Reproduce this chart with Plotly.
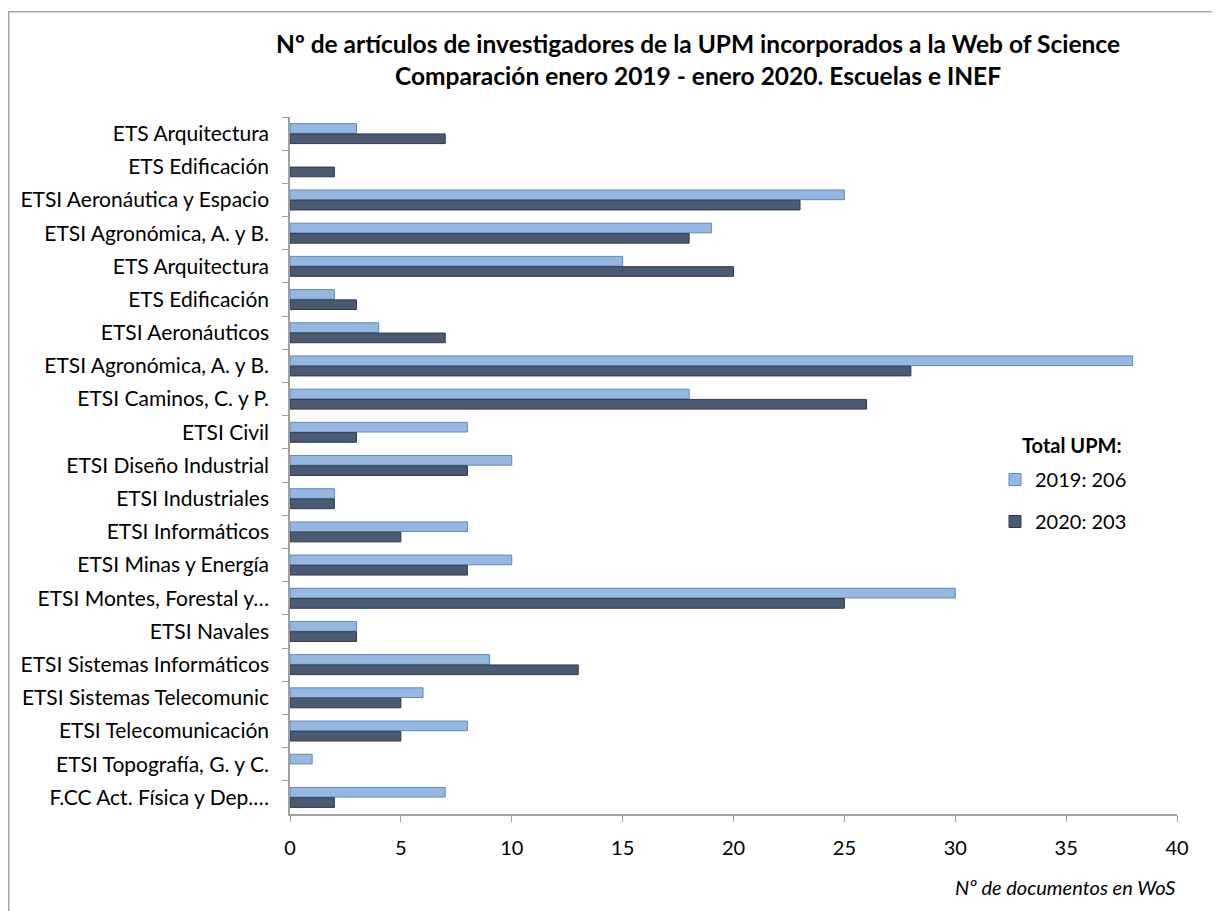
import plotly.graph_objects as go

categories = [
    "ETS Arquitectura", "ETS Edificación", "ETSI Aeronáutica y Espacio",
    "ETSI Agronómica, A. y B.", "ETS Arquitectura", "ETS Edificación",
    "ETSI Aeronáuticos", "ETSI Agronómica, A. y B.", "ETSI Caminos, C. y P.",
    "ETSI Civil", "ETSI Diseño Industrial", "ETSI Industriales",
    "ETSI Informáticos", "ETSI Minas y Energía", "ETSI Montes, Forestal y…",
    "ETSI Navales", "ETSI Sistemas Informáticos", "ETSI Sistemas Telecomunic",
    "ETSI Telecomunicación", "ETSI Topografía, G. y C.", "F.CC Act. Física y Dep.…",
]
values_2019 = [3, 0, 25, 19, 15, 2, 4, 38, 18, 8, 10, 2, 8, 10, 30, 3, 9, 6, 8, 1, 7]
values_2020 = [7, 2, 23, 18, 20, 3, 7, 28, 26, 3, 8, 2, 5, 8, 25, 3, 13, 5, 5, 0, 2]
series_names = ["2019: 206", "2020: 203"]
x_ticks = [0, 5, 10, 15, 20, 25, 30, 35, 40]

# make duplicate category names unique (invisible zero-width suffix)
seen = {}
ykeys = []
for c in categories:
    n = seen.get(c, 0)
    ykeys.append(c + "\u200b" * n)
    seen[c] = n + 1

FONT = "Lato"
W, H = 1220, 911
L, R, T, B = 282, 51, 109, 105
plot_w = W - L - R
plot_h = H - T - B


def px_x(x):
    return (x - L) / plot_w


def px_y(y):
    return 1 - (y - T) / plot_h


fig = go.Figure()
fig.add_trace(go.Bar(
    y=ykeys, x=values_2019, orientation="h", name=series_names[0],
    marker=dict(color="#95b8e3",
                line=dict(color="#6287b8", width=[0 if v == 0 else 1 for v in values_2019])),
    legendgroup="a",
))
fig.add_trace(go.Bar(
    y=ykeys, x=values_2020, orientation="h", name=series_names[1],
    marker=dict(color="#4a5a72",
                line=dict(color="#2e3a4c", width=[0 if v == 0 else 1 for v in values_2020])),
    legendgroup="b",
))

fig.update_layout(
    width=W, height=H,
    paper_bgcolor="white", plot_bgcolor="white",
    margin=dict(l=L, r=R, t=T, b=B),
    barmode="group", bargap=0.38, bargroupgap=0.06,
    font=dict(family=FONT, size=20, color="black"),
    title=dict(
        text="<b>Nº de artículos de investigadores de la UPM incorporados a la Web of Science<br>Comparación enero 2019 - enero 2020. Escuelas e INEF</b>",
        x=690 / W, xanchor="center", y=1 - 45 / H, yanchor="middle",
        font=dict(family=FONT, size=24.5, color="black"),
    ),
    legend=dict(
        x=px_x(987), xanchor="left", y=px_y(452), yanchor="top",
        xref="paper", yref="paper",
        traceorder="grouped", tracegroupgap=13,
        font=dict(size=20),
        bgcolor="rgba(0,0,0,0)",
    ),
    xaxis=dict(
        range=[0, 40], tickvals=x_ticks, showgrid=False, zeroline=False,
        showline=True, linecolor="#a0a0a0", linewidth=1.5,
        ticks="outside", ticklen=6, tickcolor="#a0a0a0",
        tickfont=dict(size=20), ticklabelstandoff=9,
    ),
    yaxis=dict(
        autorange="reversed", showgrid=False, zeroline=False,
        showline=True, linecolor="#a0a0a0", linewidth=1.5,
        ticks="outside", ticklen=6, tickcolor="#a0a0a0", tickson="boundaries",
        tickfont=dict(size=21), ticklabelstandoff=15,
    ),
    annotations=[
        dict(text="<i>Nº de documentos en WoS</i>", x=1, xref="paper", xanchor="right",
             y=px_y(879), yref="paper", yanchor="middle", showarrow=False,
             font=dict(size=20)),
        dict(text="<b>Total UPM:</b>", x=px_x(1012), xref="paper", xanchor="left",
             y=px_y(437), yref="paper", yanchor="middle", showarrow=False,
             font=dict(size=20)),
    ],
    shapes=[
        dict(type="rect", xref="paper", yref="paper",
             x0=px_x(0.75), x1=px_x(W + 50), y0=px_y(H + 50), y1=px_y(3.75),
             line=dict(color="#a6a6a6", width=1.5), fillcolor="rgba(0,0,0,0)", layer="below"),
    ],
)

fig.write_html("out.html")
